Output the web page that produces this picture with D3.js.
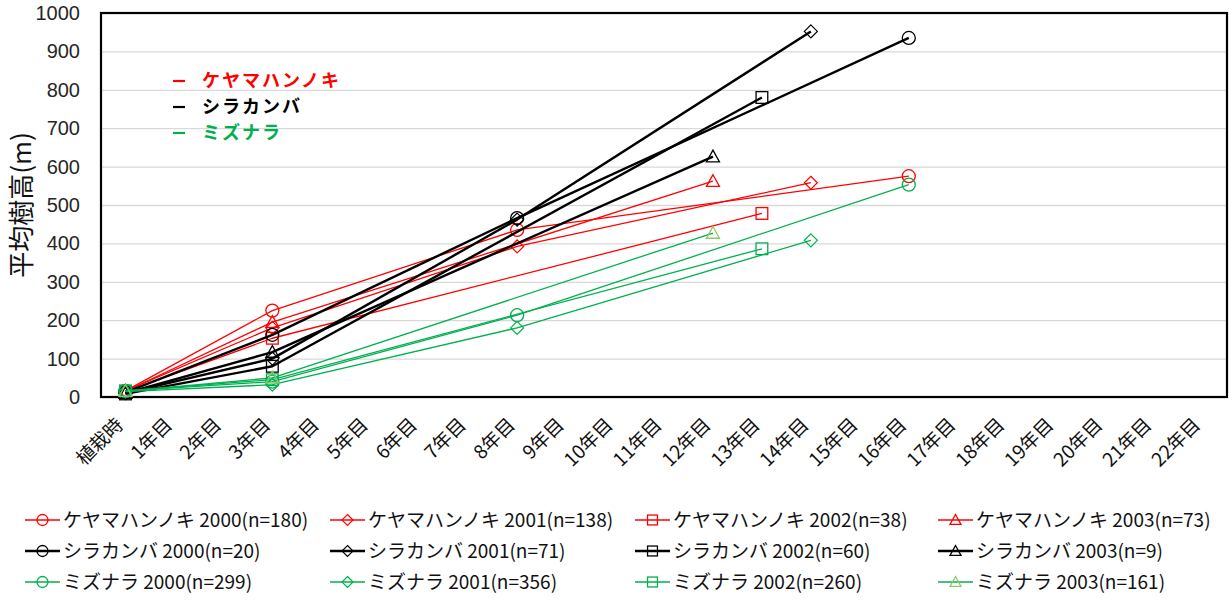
<!DOCTYPE html>
<html>
<head>
<meta charset="utf-8">
<script src="https://cdn.jsdelivr.net/npm/d3@7"></script>
<style>
  html, body { margin: 0; padding: 0; background: #fff; }
  svg { display: block; }
  text { font-family: "Noto Sans CJK JP", "Noto Sans", sans-serif; }
</style>
</head>
<body>
<svg id="chart" width="1229" height="603"></svg>
<script>
// ---- data ----
const categories = ["植栽時","1年目","2年目","3年目","4年目","5年目","6年目","7年目","8年目","9年目","10年目",
  "11年目","12年目","13年目","14年目","15年目","16年目","17年目","18年目","19年目","20年目","21年目","22年目"];
const yTicks = [0,100,200,300,400,500,600,700,800,900,1000];

const cats2000 = ["植栽時","3年目","8年目","16年目"];
const cats2001 = ["植栽時","3年目","8年目","14年目"];
const cats2002 = ["植栽時","3年目","13年目"];
const cats2003 = ["植栽時","3年目","12年目"];

const keyama2000 = [16, 225, 435, 575];
const keyama2001 = [16, 180, 392, 558];
const keyama2002 = [14, 153, 478];
const keyama2003 = [15, 195, 562];
const shira2000 = [12, 162, 466, 935];
const shira2001 = [10, 100, 462, 952];
const shira2002 = [8, 80, 780];
const shira2003 = [10, 117, 626];
const mizu2000 = [16, 40, 213, 553];
const mizu2001 = [14, 32, 180, 408];
const mizu2002 = [16, 45, 386];
const mizu2003 = [15, 50, 427];

const speciesNames = ["ケヤマハンノキ","シラカンバ","ミズナラ"];
const seriesLabels = [
  "ケヤマハンノキ 2000(n=180)","ケヤマハンノキ 2001(n=138)","ケヤマハンノキ 2002(n=38)","ケヤマハンノキ 2003(n=73)",
  "シラカンバ 2000(n=20)","シラカンバ 2001(n=71)","シラカンバ 2002(n=60)","シラカンバ 2003(n=9)",
  "ミズナラ 2000(n=299)","ミズナラ 2001(n=356)","ミズナラ 2002(n=260)","ミズナラ 2003(n=161)"
];

// ---- styles ----
const RED = "#FF0000", BLACK = "#000000", GREEN = "#00B050", LGREEN = "#8CC866";
const series = [
  {label: seriesLabels[0], cats: cats2000, vals: keyama2000, color: RED, mcolor: RED, w: 1.3, shape: "circle"},
  {label: seriesLabels[1], cats: cats2001, vals: keyama2001, color: RED, mcolor: RED, w: 1.3, shape: "diamond"},
  {label: seriesLabels[2], cats: cats2002, vals: keyama2002, color: RED, mcolor: RED, w: 1.3, shape: "square"},
  {label: seriesLabels[3], cats: cats2003, vals: keyama2003, color: RED, mcolor: RED, w: 1.3, shape: "triangle"},
  {label: seriesLabels[4], cats: cats2000, vals: shira2000, color: BLACK, mcolor: BLACK, w: 2.4, shape: "circle"},
  {label: seriesLabels[5], cats: cats2001, vals: shira2001, color: BLACK, mcolor: BLACK, w: 2.4, shape: "diamond"},
  {label: seriesLabels[6], cats: cats2002, vals: shira2002, color: BLACK, mcolor: BLACK, w: 2.4, shape: "square"},
  {label: seriesLabels[7], cats: cats2003, vals: shira2003, color: BLACK, mcolor: BLACK, w: 2.4, shape: "triangle"},
  {label: seriesLabels[8], cats: cats2000, vals: mizu2000, color: GREEN, mcolor: GREEN, w: 1.3, shape: "circle"},
  {label: seriesLabels[9], cats: cats2001, vals: mizu2001, color: GREEN, mcolor: GREEN, w: 1.3, shape: "diamond"},
  {label: seriesLabels[10], cats: cats2002, vals: mizu2002, color: GREEN, mcolor: GREEN, w: 1.3, shape: "square"},
  {label: seriesLabels[11], cats: cats2003, vals: mizu2003, color: GREEN, mcolor: LGREEN, w: 1.3, shape: "triangle"}
];

const svg = d3.select("#chart");
const L = 101, T = 13, R = 1227, B = 397;

const x = d3.scaleBand().domain(categories).range([L, R]).paddingInner(0).paddingOuter(0);
const cx = c => x(c) + x.bandwidth() / 2;
const y = d3.scaleLinear().domain([0, 1000]).range([B, T]);

// gridlines
svg.append("g")
  .attr("transform", `translate(${L},0)`)
  .call(d3.axisLeft(y).tickValues(yTicks).tickSize(-(R - L)).tickFormat(""))
  .call(g => g.select(".domain").remove())
  .call(g => g.selectAll("line").attr("stroke", "#D9D9D9").attr("stroke-width", 1.3));

// y tick labels
svg.append("g")
  .attr("transform", `translate(${L},0)`)
  .call(d3.axisLeft(y).tickValues(yTicks).tickSize(0).tickPadding(21).tickFormat(d3.format("d")))
  .call(g => g.select(".domain").remove())
  .call(g => g.selectAll("text").attr("font-size", 20).attr("fill", "#262626")
    .style("font-family", "'Liberation Sans', Arial, sans-serif"));

// x labels
const xAxis = svg.append("g")
  .attr("transform", `translate(0,${B})`)
  .call(d3.axisBottom(x).tickSize(0).tickPadding(0));
xAxis.select(".domain").remove();
xAxis.selectAll("text")
  .attr("font-size", 19).attr("fill", "#111")
  .attr("text-anchor", "end")
  .attr("dy", null).attr("y", 0)
  .attr("transform", "translate(-1,29) rotate(-45)");

// plot border
svg.append("rect").attr("x", L).attr("y", T).attr("width", R - L).attr("height", B - T)
  .attr("fill", "none").attr("stroke", "#000").attr("stroke-width", 2.2);

// y title
svg.append("text")
  .attr("transform", `translate(31,${(T + B) / 2}) rotate(-90)`)
  .attr("text-anchor", "middle")
  .attr("font-size", 26).attr("fill", "#111")
  .text("平均樹高(m)");

// marker generator
function marker(g, shape, px, py, color, s) {
  if (shape === "circle") {
    g.append("circle").attr("cx", px).attr("cy", py).attr("r", s * 0.5)
      .attr("fill", "none").attr("stroke", color).attr("stroke-width", 1.3);
  } else if (shape === "square") {
    const h = s * 0.45;
    g.append("rect").attr("x", px - h).attr("y", py - h).attr("width", 2 * h).attr("height", 2 * h)
      .attr("fill", "none").attr("stroke", color).attr("stroke-width", 1.3);
  } else if (shape === "diamond") {
    const h = s * 0.5;
    g.append("path").attr("d", `M${px},${py - h}L${px + h},${py}L${px},${py + h}L${px - h},${py}Z`)
      .attr("fill", "none").attr("stroke", color).attr("stroke-width", 1.2);
  } else if (shape === "triangle") {
    const h = s * 0.5;
    g.append("path").attr("d", `M${px},${py - h}L${px + h},${py + h * 0.8}L${px - h},${py + h * 0.8}Z`)
      .attr("fill", "none").attr("stroke", color).attr("stroke-width", 1.3);
  }
}

// series
const line = d3.line().x(d => cx(d[0])).y(d => y(d[1]));
const plot = svg.append("g");
series.forEach(s => {
  const pts = s.cats.map((c, i) => [c, s.vals[i]]);
  const g = plot.append("g");
  g.append("path").attr("d", line(pts)).attr("fill", "none")
    .attr("stroke", s.color).attr("stroke-width", s.w).attr("stroke-linejoin", "round");
  pts.forEach(p => marker(g, s.shape, cx(p[0]), y(p[1]), s.mcolor, 13));
});

// inner legend (species)
const spColors = [RED, BLACK, GREEN];
const inner = svg.append("g");
speciesNames.forEach((n, i) => {
  const yy = 81 + i * 26;
  inner.append("line").attr("x1", 173).attr("x2", 185).attr("y1", yy).attr("y2", yy)
    .attr("stroke", spColors[i]).attr("stroke-width", 2.2);
  inner.append("text").attr("x", 202).attr("y", yy).attr("dy", "0.36em")
    .attr("font-size", 18).attr("letter-spacing", 2).attr("font-weight", "bold")
    .attr("fill", spColors[i]).text(n);
});

// bottom legend
const colX = [25, 330, 635, 938];
const rowY = [520, 551, 582];
const leg = svg.append("g");
series.forEach((s, i) => {
  const row = Math.floor(i / 4), col = i % 4;
  const x0 = colX[col], yy = rowY[row];
  leg.append("line").attr("x1", x0).attr("x2", x0 + 35).attr("y1", yy).attr("y2", yy)
    .attr("stroke", s.color).attr("stroke-width", s.w + 0.3);
  marker(leg, s.shape, x0 + 17.5, yy, s.mcolor, 11);
  leg.append("text").attr("x", x0 + 38).attr("y", yy).attr("dy", "0.36em")
    .attr("font-size", 19).attr("fill", "#111").text(s.label);
});
</script>
</body>
</html>
